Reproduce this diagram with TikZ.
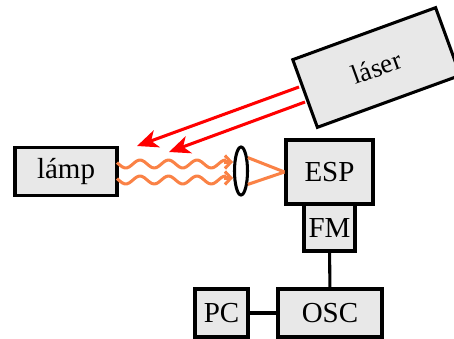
\documentclass[tikz,border=0pt]{standalone}
\usepackage{fontspec}
\setmainfont{Liberation Serif}
\usetikzlibrary{arrows.meta,shapes.geometric}
\definecolor{boxgray}{gray}{0.91}
\definecolor{waveorange}{RGB}{250,130,70}
\tikzset{
  unit/.style={draw,line width=3.05pt,fill=boxgray,inner sep=0pt,font=\fontsize{29}{32}\selectfont},
  beam/.style={red,line width=3.05pt,-{Stealth[length=21pt,width=18pt,inset=6pt]}},
  glow/.style={waveorange,line width=3.05pt},
}
\begin{document}
\begin{tikzpicture}[x=1pt,y=-1pt]
\useasboundingbox (0,0) rectangle (454,338);
% boxes
\node[unit,minimum width=102pt,minimum height=48pt] (lamp) at (66,171.5) {lámp};
\node[unit,minimum width=87pt,minimum height=64pt] (esp) at (329.5,172) {ESP};
\node[unit,minimum width=51pt,minimum height=47pt] (fm) at (329.5,227.5) {FM};
\node[unit,minimum width=104pt,minimum height=48pt] (osc) at (330,313) {OSC};
\node[unit,minimum width=53pt,minimum height=48pt] (pc) at (221.5,313) {PC};
\node[unit,minimum width=152pt,minimum height=72pt,rotate=20,font=\fontsize{27}{30}\selectfont] (laser) at (376.5,67.5) {láser};
\node[ellipse,draw,line width=3.05pt,fill=white,inner sep=0pt,minimum width=13pt,minimum height=48pt] (lens) at (241,171) {};
\draw[line width=3.05pt] (fm) -- (osc);
\draw[line width=3.05pt] (pc) -- (osc);
% beams
\coordinate (laseraa) at (299,87);
\coordinate (laserbb) at (305,102);
\coordinate (tipaa) at (137,146);
\coordinate (tipbb) at (169,152);
\draw[beam] (laseraa) -- (tipaa);
\draw[beam] (laserbb) -- (tipbb);
% light from the lamp
\foreach \y in {164,180} {
\draw[glow,line join=round] plot[smooth,domain=117:226,samples=45] (\x,{\y-4*cos((\x-140)*12.63)});
\coordinate (from\y) at (224,\y-2);
\coordinate (to\y) at (233,\y-2);
\draw[glow,-{Straight Barb[length=6pt,width=13pt]}] (from\y) -- (to\y);
}
\draw[glow] (lens.63) -- (esp.west);
\draw[glow] (lens.-63) -- (esp.west);
\end{tikzpicture}
\end{document}
